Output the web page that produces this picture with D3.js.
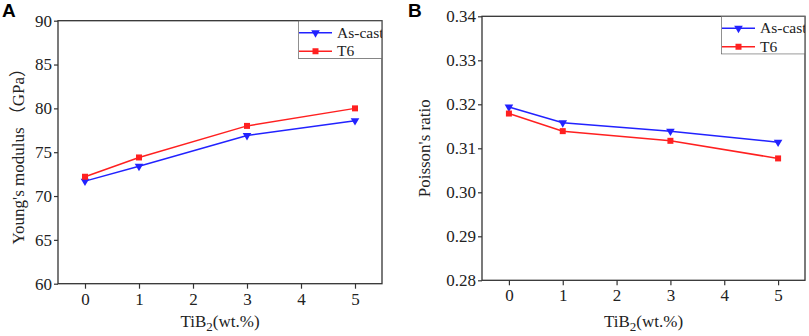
<!DOCTYPE html>
<html>
<head>
<meta charset="utf-8">
<script src="https://cdn.jsdelivr.net/npm/d3@7"></script>
<style>
  body { margin: 0; background: #fff; }
  svg { display: block; }
</style>
</head>
<body>
<div id="chart"></div>
<script>
// TiB2 content (wt.%)
const tib2 = [0, 1, 3, 5];
const xTicks = [0, 1, 2, 3, 4, 5];

// Young's modulus (GPa)
const youngAsCast = [71.7, 73.4, 76.9, 78.6];
const youngT6 = [72.2, 74.4, 78.0, 80.0];
const youngTicks = [60, 65, 70, 75, 80, 85, 90];

// Poisson's ratio
const poissonAsCast = [0.3194, 0.3158, 0.3139, 0.3114];
const poissonT6 = [0.3179, 0.3139, 0.3117, 0.3077];
const poissonTicks = [0.28, 0.29, 0.30, 0.31, 0.32, 0.33, 0.34];

const seriesNames = ["As-cast", "T6"];

const serif = "'Liberation Serif', 'Times New Roman', 'Noto Sans CJK SC', serif";

class PanelVis {
  constructor(svg, opts) {
    this.svg = svg;
    this.opts = opts;
    this.initVis();
  }

  initVis() {
    let vis = this;
    const o = vis.opts;
    const g = vis.svg.append("g");

    vis.x = d3.scaleLinear().domain([-0.5, 5.5]).range([o.left, o.right]);
    vis.y = d3.scaleLinear().domain(o.yDomain).range([o.bottom, o.top]);

    // panel letter
    g.append("text")
      .attr("x", o.letterX)
      .attr("y", 17)
      .style("font-family", "'Liberation Sans', Arial, sans-serif")
      .style("font-weight", "bold")
      .style("font-size", "19px")
      .text(o.letter);

    // axes
    const xAxis = d3.axisBottom(vis.x).tickValues(xTicks).tickSize(5).tickPadding(4).tickFormat(d3.format("d"));
    const yAxis = d3.axisLeft(vis.y).tickValues(o.yTicks).tickSize(4).tickPadding(2).tickFormat(o.yFormat);

    g.append("g").attr("transform", `translate(0,${o.bottom})`).call(xAxis)
      .call(a => a.select(".domain").remove());
    g.append("g").attr("transform", `translate(${o.left},0)`).call(yAxis)
      .call(a => a.select(".domain").remove());

    g.selectAll(".tick line").attr("stroke", "#333").attr("stroke-width", 1.2);
    g.selectAll(".tick text")
      .attr("fill", "#222")
      .style("font-family", serif)
      .style("font-size", "17px");

    // frame
    g.append("rect")
      .attr("x", o.left).attr("y", o.top)
      .attr("width", o.right - o.left).attr("height", o.bottom - o.top)
      .attr("fill", "none").attr("stroke", "#333").attr("stroke-width", 1.3);

    // axis titles
    const xt = g.append("text")
      .attr("x", (o.left + o.right) / 2)
      .attr("y", 327)
      .attr("text-anchor", "middle")
      .attr("fill", "#222")
      .style("font-family", serif)
      .style("font-size", "17px");
    xt.append("tspan").text("TiB");
    xt.append("tspan").attr("dy", 4).style("font-size", "13px").text("2");
    xt.append("tspan").attr("dy", -4).text("(wt.%)");

    g.append("text")
      .attr("transform", `translate(${o.titleX},${(o.top + o.bottom) / 2}) rotate(-90)`)
      .attr("text-anchor", "middle")
      .attr("fill", "#222")
      .style("font-family", serif)
      .style("font-size", "17px")
      .text(o.yTitle);

    // series
    const colors = ["#2222ff", "#ff2020"];
    const symbols = [
      d3.symbol().type(d3.symbolTriangle).size(32),
      d3.symbol().type(d3.symbolSquare).size(36)
    ];
    const line = d3.line().x((d, i) => vis.x(tib2[i])).y(d => vis.y(d));

    o.series.forEach((vals, k) => {
      g.append("path")
        .datum(vals)
        .attr("fill", "none")
        .attr("stroke", colors[k])
        .attr("stroke-width", 1.5)
        .attr("d", line);
      g.selectAll(null)
        .data(vals)
        .enter()
        .append("path")
        .attr("transform", (d, i) => `translate(${vis.x(tib2[i])},${vis.y(d)})` + (k === 0 ? " rotate(180)" : ""))
        .attr("d", symbols[k])
        .attr("fill", colors[k]);
    });

    // legend
    const lw = 84, lh = 38;
    const lx = o.right - lw, ly = o.top;
    g.append("clipPath").attr("id", "clip" + o.letter)
      .append("rect").attr("x", lx).attr("y", ly).attr("width", lw).attr("height", lh);
    const leg = g.append("g").attr("clip-path", `url(#clip${o.letter})`);
    leg.append("rect")
      .attr("x", lx).attr("y", ly).attr("width", lw).attr("height", lh)
      .attr("fill", "#fff").attr("stroke", "#555").attr("stroke-width", 1.3);
    seriesNames.forEach((name, k) => {
      const cy = ly + 12 + k * 18.5;
      leg.append("line")
        .attr("x1", lx + 1).attr("x2", lx + 34)
        .attr("y1", cy).attr("y2", cy)
        .attr("stroke", colors[k]).attr("stroke-width", 1.5);
      leg.append("path")
        .attr("transform", `translate(${lx + 17.5},${cy})` + (k === 0 ? " rotate(180)" : ""))
        .attr("d", symbols[k])
        .attr("fill", colors[k]);
      leg.append("text")
        .attr("x", lx + 39)
        .attr("y", cy + 5)
        .attr("fill", "#222")
        .style("font-family", serif)
        .style("font-size", "15.5px")
        .text(name);
    });
  }
}

const W = 809, H = 336;
const svg = d3.select("#chart").append("svg").attr("width", W).attr("height", H);

new PanelVis(svg, {
  letter: "A", letterX: 2,
  left: 58, right: 382, top: 20.7, bottom: 283.7,
  yDomain: [60, 90], yTicks: youngTicks, yFormat: d3.format("d"),
  yTitle: "Young's modulus （GPa）", titleX: 24,
  series: [youngAsCast, youngT6]
});

new PanelVis(svg, {
  letter: "B", letterX: 408,
  left: 482, right: 805, top: 16.3, bottom: 280.3,
  yDomain: [0.28, 0.34], yTicks: poissonTicks, yFormat: d3.format(".2f"),
  yTitle: "Poisson's ratio", titleX: 430,
  series: [poissonAsCast, poissonT6]
});
</script>
</body>
</html>
